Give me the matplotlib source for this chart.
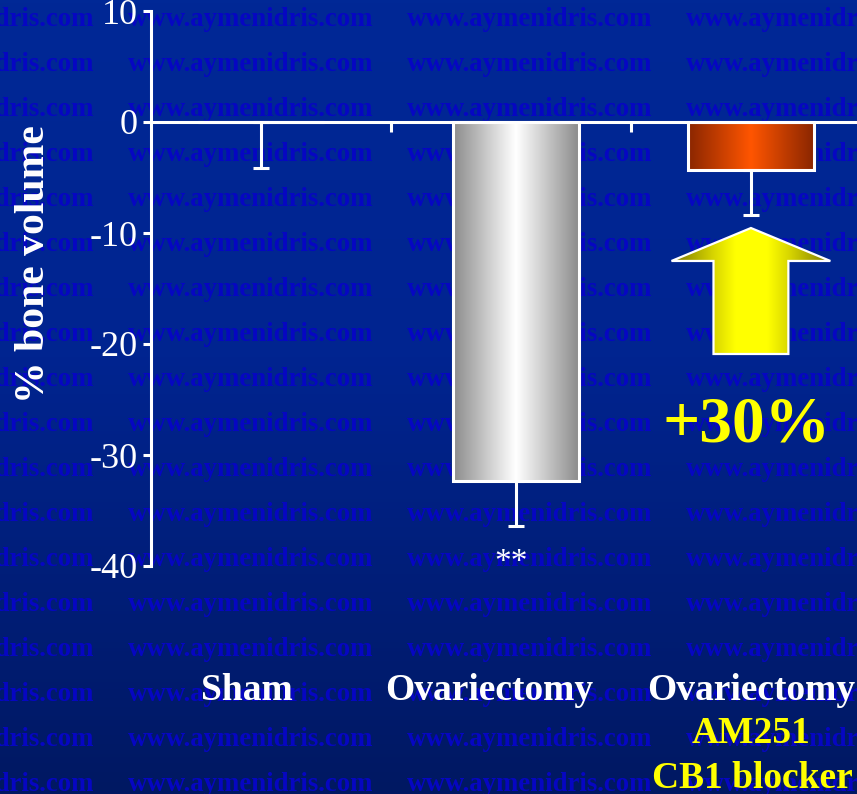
import numpy as np
import matplotlib.pyplot as plt
from matplotlib.colors import LinearSegmentedColormap
from matplotlib.patches import Polygon

plt.rcParams['font.family'] = ['Liberation Serif', 'DejaVu Serif']

# % change in bone volume vs. sham
groups = ['Sham', 'Ovariectomy', 'Ovariectomy']
treatment = ['AM251', 'CB1 blocker']
change = [0.0, -32.3, -4.3]
sem = [4.1, 4.1, 4.1]
yticks = [10, 0, -10, -20, -30, -40]
gain_text = '+30%'
signif = ['', '**', '']

W, H = 857, 794
fig = plt.figure(figsize=(W / 100, H / 100), dpi=100)

# slide background with watermark
bg = fig.add_axes([0, 0, 1, 1], zorder=-10)
bg.set_axis_off()
bg_cmap = LinearSegmentedColormap.from_list(
    'slide', [(0, '#002896'), (0.45, '#002490'), (1, '#001862')])
bg.imshow(np.linspace(0, 1, 256)[:, None], cmap=bg_cmap, aspect='auto',
          extent=[0, 1, 0, 1])
bg.set_xlim(0, 1)
bg.set_ylim(0, 1)
for i in range(18):
    for j in range(4):
        bg.text((-151 + 279 * j) / W, 1 - (25.5 + 45.05 * i) / H,
                'www.aymenidris.com', fontsize=19.3, weight='bold',
                color='#0606c2', ha='left', va='baseline')

ax = fig.add_axes([151 / W, 1 - 566 / H, 1 - 151 / W, 555 / H])
ax.patch.set_visible(False)

bar_x = [-0.04, 1.02, 2.0]
bar_w = 0.525
bar_maps = [
    LinearSegmentedColormap.from_list('g0', ['#ffffff', '#8c8c8c']),
    LinearSegmentedColormap.from_list('g1', ['#ffffff', '#8c8c8c']),
    LinearSegmentedColormap.from_list('g2', ['#ff5500', '#8a2600']),
]
grad = np.abs(np.linspace(-1, 1, 256))[None, :]

bars = ax.bar(bar_x, change, width=bar_w, facecolor='none',
              edgecolor='white', linewidth=2.2, zorder=3)
for b, cm in zip(bars, bar_maps):
    x0 = b.get_x()
    im = ax.imshow(grad, cmap=cm, aspect='auto', zorder=2,
                   extent=[x0, x0 + b.get_width(), b.get_y() + b.get_height(), b.get_y()])
    im.set_clip_path(b)

ax.errorbar(bar_x, change, yerr=[sem, [0] * len(sem)], fmt='none',
            ecolor='white', elinewidth=2.2, capsize=6, capthick=2.2, zorder=4)

for x, v, e, s in zip(bar_x, change, sem, signif):
    if s:
        ax.text(x - 0.02, v - e - 3.3, s, color='white', fontsize=24,
                ha='center', va='center')

# yellow arrow below the blocker bar
cx = bar_x[2]
tip = change[2] - sem[2] - 1.15
head_y = tip - 2.97
tail_y = tip - 11.35
arrow_pts = [(cx, tip), (cx + 0.331, head_y), (cx + 0.156, head_y),
             (cx + 0.156, tail_y), (cx - 0.156, tail_y), (cx - 0.156, head_y),
             (cx - 0.331, head_y)]
arrow = Polygon(arrow_pts, closed=True, facecolor='none', edgecolor='white',
                linewidth=1.6, zorder=6)
ax.add_patch(arrow)
arrow_cmap = LinearSegmentedColormap.from_list(
    'arrow', [(0, '#ffff00'), (0.2, '#ffff00'), (0.5, '#d4d200'), (1, '#7c7800')])
im = ax.imshow(grad, cmap=arrow_cmap, aspect='auto', zorder=5,
               extent=[cx - 0.331, cx + 0.331, tail_y, tip])
im.set_clip_path(arrow)

ax.text(cx - 0.02, -28.75, gain_text, color='#ffff00', fontsize=47,
        weight='bold', ha='center', va='baseline')

# category labels
label_x = [-0.10, 0.91, 2.0]
for x, g in zip(label_x, groups):
    ax.text(x, -52.1, g, color='white', fontsize=27, weight='bold',
            ha='center', va='baseline', clip_on=False)
for k, t in enumerate(treatment):
    ax.text(label_x[2] + 0.005 * k, -55.95 - 4.05 * k, t, color='#ffff00',
            fontsize=27, weight='bold', ha='center', va='baseline', clip_on=False)

fig.text(34 / W, 1 - 264 / H, '% bone volume', rotation=90, color='white',
         fontsize=30, weight='bold', ha='center', va='center')

ax.set_xlim(-0.5, 2.442)
ax.set_ylim(-40, 10)
for side in ['top', 'right']:
    ax.spines[side].set_visible(False)
ax.spines['left'].set_color('white')
ax.spines['left'].set_linewidth(2.2)
ax.spines['bottom'].set_position(('data', 0))
ax.spines['bottom'].set_color('white')
ax.spines['bottom'].set_linewidth(2.2)
ax.set_yticks(yticks)
ax.set_yticklabels([str(v) for v in yticks])
ax.tick_params(axis='y', colors='white', labelsize=26, length=5.8, width=2.2, pad=4)
ax.set_xticks([0.5, 1.5])
ax.set_xticklabels([])
ax.tick_params(axis='x', colors='white', length=7, width=2.2, direction='out')

fig.savefig('out.png', dpi=100)
